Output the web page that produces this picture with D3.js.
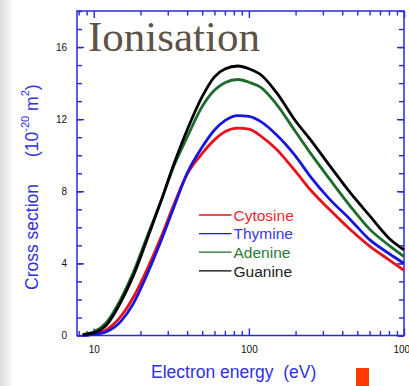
<!DOCTYPE html>
<html>
<head>
<meta charset="utf-8">
<script src="https://cdn.jsdelivr.net/npm/d3@7"></script>
<style>
  body { margin: 0; background: #fff; }
  svg { display: block; }
  text { font-family: "Liberation Sans", Arial, sans-serif; }
</style>
</head>
<body>
<div id="viz"></div>
<script>
// electron energy (eV) sample points
const energies = [8.5, 10, 12, 15, 18, 22, 27, 33, 40, 50, 60, 70, 85, 100, 120, 150, 200, 250, 330, 450, 600, 800, 1000]

// total ionisation cross sections (10^-20 m^2)
const cytosine = [0.0, 0.08, 0.3, 1.07, 2.12, 3.64, 5.4, 7.3, 8.95, 10.1, 10.85, 11.3, 11.5, 11.45, 11.05, 10.35, 9.1, 8.07, 7.0, 5.88, 4.96, 4.2, 3.62]
const thymine = [0.0, 0.06, 0.2, 0.8, 1.77, 3.36, 5.2, 7.16, 9.0, 10.45, 11.4, 11.92, 12.2, 12.15, 11.85, 11.15, 9.95, 8.8, 7.58, 6.44, 5.32, 4.55, 4.0]
const adenine = [0.06, 0.2, 0.7, 2.05, 3.5, 5.45, 7.4, 9.45, 11.0, 12.7, 13.6, 14.02, 14.2, 14.05, 13.75, 12.85, 11.3, 10.1, 8.7, 7.18, 5.9, 5.0, 4.38]
const guanine = [0.05, 0.15, 0.55, 1.88, 3.32, 5.3, 7.4, 9.55, 11.4, 13.25, 14.35, 14.78, 14.95, 14.8, 14.45, 13.5, 11.9, 10.85, 9.45, 7.92, 6.65, 5.4, 4.75]

const seriesNames = ["Cytosine", "Thymine", "Adenine", "Guanine"]
const seriesColors = ["#e8121c", "#1717dc", "#1e6b2e", "#000000"]
const legendColors = ["#e82a2e", "#3a3ae2", "#2a7a3a", "#222222"]

const xMajor = [10, 100, 1000]
const xMinor = [8, 9, 20, 30, 40, 50, 60, 70, 80, 90, 200, 300, 400, 500, 600, 700, 800, 900]
const yMajor = [0, 4, 8, 12, 16]
const yMinor = d3.range(0, 19)

document.addEventListener("DOMContentLoaded", () => {

    const width = 409
    const height = 386
    const axisColor = "#2828e0"

    const svg = d3.select("#viz").append("svg")
        .attr("width", width)
        .attr("height", height)

    // faint grey slide edge on the left
    const grad = svg.append("defs").append("linearGradient")
        .attr("id", "edge")
        .attr("x1", 0).attr("x2", 1).attr("y1", 0).attr("y2", 0)
    grad.append("stop").attr("offset", "0%").attr("stop-color", "#dcdcdc")
    grad.append("stop").attr("offset", "100%").attr("stop-color", "#ffffff")
    svg.append("rect")
        .attr("x", 0).attr("y", 0)
        .attr("width", 14).attr("height", height)
        .attr("fill", "url(#edge)")

    const x = d3.scaleLog().domain([7.8, 1000]).range([77, 404])
    const y = d3.scaleLinear().domain([0, 18]).range([335.5, 11])

    // title
    svg.append("text")
        .text("Ionisation")
        .attr("x", 88)
        .attr("y", 51)
        .style("font-family", "'Liberation Serif', 'Times New Roman', serif")
        .style("font-size", "43px")
        .attr("fill", "#5c5247")

    // axes, ticks pointing into the frame
    const axes = svg.append("g")

    function style(g) {
        g.select(".domain").remove()
        g.selectAll("line").attr("stroke", axisColor).attr("stroke-width", 1.4)
        g.selectAll("text").attr("fill", "#111").style("font-size", "10px")
            .style("font-family", "'Liberation Sans', Arial, sans-serif")
    }

    axes.append("g").attr("transform", `translate(0,${y(0)})`)
        .call(d3.axisBottom(x).tickValues(xMajor).tickSize(-7).tickPadding(10).tickFormat(d3.format("d")))
        .call(style)
    axes.append("g").attr("transform", `translate(0,${y(0)})`)
        .call(d3.axisBottom(x).tickValues(xMinor).tickSize(-4.5).tickFormat(""))
        .call(style)
    axes.append("g").attr("transform", `translate(0,${y(18)})`)
        .call(d3.axisTop(x).tickValues(xMajor).tickSize(-7).tickFormat(""))
        .call(style)
    axes.append("g").attr("transform", `translate(0,${y(18)})`)
        .call(d3.axisTop(x).tickValues(xMinor).tickSize(-4.5).tickFormat(""))
        .call(style)

    axes.append("g").attr("transform", `translate(${x.range()[0]},0)`)
        .call(d3.axisLeft(y).tickValues(yMajor).tickSize(-7).tickPadding(10))
        .call(style)
    axes.append("g").attr("transform", `translate(${x.range()[0]},0)`)
        .call(d3.axisLeft(y).tickValues(yMinor).tickSize(-5).tickFormat(""))
        .call(style)
    axes.append("g").attr("transform", `translate(${x.range()[1]},0)`)
        .call(d3.axisRight(y).tickValues(yMinor).tickSize(-5).tickFormat(""))
        .call(style)
    axes.append("g").attr("transform", `translate(${x.range()[1]},0)`)
        .call(d3.axisRight(y).tickValues(yMajor).tickSize(-7).tickFormat(""))
        .call(style)

    // frame
    svg.append("rect")
        .attr("x", x.range()[0])
        .attr("y", y(18))
        .attr("width", x.range()[1] - x.range()[0])
        .attr("height", y(0) - y(18))
        .attr("fill", "none")
        .attr("stroke", axisColor)
        .attr("stroke-width", 1.5)

    // curves
    const allSeries = [cytosine, thymine, adenine, guanine]
    const line = d3.line()
        .x((d, i) => x(energies[i]))
        .y(d => y(d))
        .curve(d3.curveMonotoneX)

    svg.append("g")
        .selectAll("path")
        .data(allSeries)
        .join("path")
        .attr("d", d => line(d))
        .attr("fill", "none")
        .attr("stroke", (d, i) => seriesColors[i])
        .attr("stroke-width", 2.8)
        .attr("stroke-linejoin", "round")

    // legend
    const legend = svg.append("g")
    seriesNames.forEach((name, i) => {
        const ly = 215 + i * 18.6
        legend.append("line")
            .attr("x1", 199).attr("x2", 231.5)
            .attr("y1", ly).attr("y2", ly)
            .attr("stroke", seriesColors[i])
            .attr("stroke-width", 1.3)
        legend.append("text")
            .text(name)
            .attr("x", 233.5)
            .attr("y", ly + 5.8)
            .style("font-size", "15.5px")
            .attr("fill", legendColors[i])
    })

    // axis titles
    svg.append("text")
        .text("Electron energy  (eV)")
        .attr("x", 151)
        .attr("y", 378)
        .style("font-size", "17.5px")
        .style("white-space", "pre")
        .attr("fill", "#3030e2")

    const ytitle = svg.append("text")
        .attr("transform", "translate(37.5,290) rotate(-90)")
        .style("font-size", "17.5px")
        .style("white-space", "pre")
        .attr("fill", "#3030e2")
    ytitle.append("tspan").text("Cross section")
    ytitle.append("tspan").attr("dx", 27).text("(10")
    ytitle.append("tspan").attr("dy", -9).style("font-size", "11px").text("-20")
    ytitle.append("tspan").attr("dy", 9).text(" m")
    ytitle.append("tspan").attr("dy", -9).style("font-size", "11px").text("2")
    ytitle.append("tspan").attr("dy", 9).text(")")

    // little orange marker from the slide
    svg.append("rect")
        .attr("x", 356).attr("y", 368)
        .attr("width", 13).attr("height", 18)
        .attr("fill", "#ff3c00")
})
</script>
</body>
</html>
